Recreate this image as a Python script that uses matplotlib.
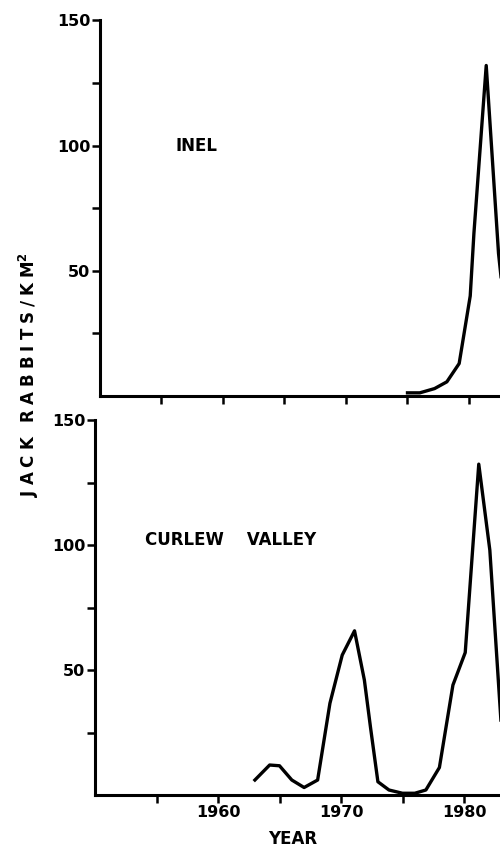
import matplotlib.pyplot as plt
from matplotlib.ticker import FixedLocator

plt.rcParams['font.family'] = ['DejaVu Sans']
plt.rcParams['font.weight'] = 'bold'

# INEL jack rabbit densities
inel_years = [1975, 1976, 1977.2, 1978.2, 1979.2, 1980.1, 1980.4, 1981.4, 1982.4, 1983.2]
inel_density = [1.3, 1.3, 3, 5.7, 13, 40, 65, 132, 57, 20]

# Curlew Valley jack rabbit densities
curlew_years = [1963, 1964.2, 1965, 1966, 1967, 1968.1, 1969.1, 1970.1, 1971.1, 1971.9,
                1972.4, 1973, 1973.9, 1975, 1976, 1976.9, 1978, 1979.1, 1980.1,
                1981.2, 1982.1, 1983]
curlew_density = [6, 12, 11.7, 6, 3, 6, 36.7, 56, 65.7, 46,
                  27, 5.3, 2, 0.7, 0.7, 2, 11, 44, 57,
                  132.4, 98, 30]

panel_names = ['INEL', 'CURLEW    VALLEY']
year_ticks = [1955, 1960, 1965, 1970, 1975, 1980]
year_labels = [1960, 1970, 1980]

fig = plt.figure(figsize=(5, 8.5), dpi=100)
ax_top = fig.add_axes([0.2, 0.534, 0.8, 0.442])
ax_bot = fig.add_axes([0.19, 0.0647, 0.81, 0.441])

def style_axis(ax, x_left_px):
    ax.set_ylim(0, 150)
    # right edge of the picture cuts the plot
    ax.set_xlim(1950, 1950 + (500 - x_left_px) / 12.3)
    for s in ['top', 'right']:
        ax.spines[s].set_visible(False)
    for s in ['left', 'bottom']:
        ax.spines[s].set_linewidth(2.2)
    ax.yaxis.set_major_locator(FixedLocator([50, 100, 150]))
    ax.yaxis.set_minor_locator(FixedLocator([25, 75, 125]))
    ax.tick_params(axis='both', which='both', direction='out', width=1.8,
                   length=6, labelsize=11.5, pad=1)

style_axis(ax_top, 100)
style_axis(ax_bot, 95)

ax_top.plot(inel_years, inel_density, color='black', lw=2.4)
ax_bot.plot(curlew_years, curlew_density, color='black', lw=2.4)

# top panel: ticks every 5 years, no labels
ax_top.xaxis.set_major_locator(FixedLocator(year_ticks))
ax_top.set_xticklabels([])

# bottom panel: labelled decades, unlabelled half-decades
ax_bot.xaxis.set_major_locator(FixedLocator(year_labels))
ax_bot.xaxis.set_minor_locator(FixedLocator([y for y in year_ticks if y not in year_labels]))
ax_bot.set_xticklabels([str(y) for y in year_labels])

ax_top.text(1956.1, 100, panel_names[0], fontsize=12, fontweight='bold',
            va='center', ha='left')
ax_bot.text(1954.1, 102, panel_names[1], fontsize=12, fontweight='bold',
            va='center', ha='left')

fig.text(293 / 500, 1 - 839 / 850, 'YEAR', fontsize=12, fontweight='bold',
         ha='center', va='center')

# letter-spaced axis title, as in the original typesetting
gap = '\u2009\u200a'
ylab = gap.join('JACK') + gap * 3 + gap.join('RABBITS/KM')
fig.text(29 / 500, 1 - 375 / 850, ylab + r'$^\mathbf{2}$', fontsize=12,
         fontweight='bold', rotation=90, ha='center', va='center')

fig.savefig('out.png', dpi=100)
